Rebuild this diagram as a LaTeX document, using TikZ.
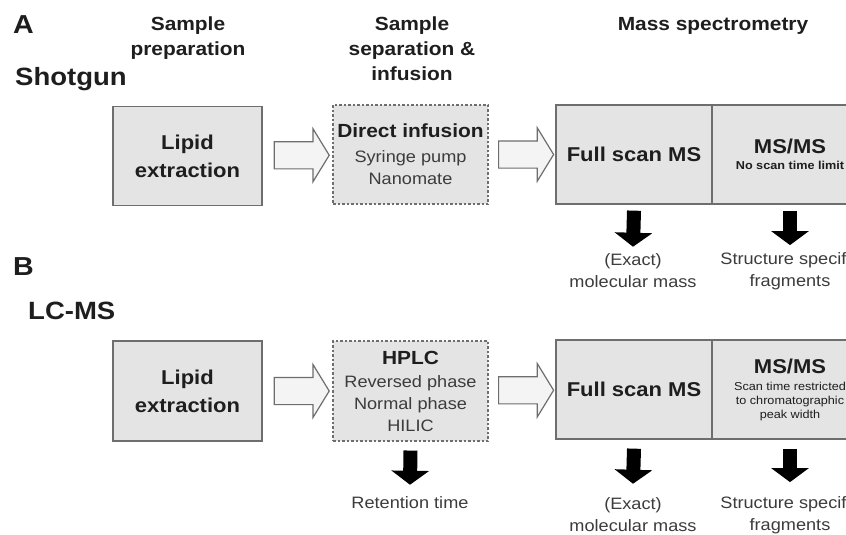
\documentclass[tikz,border=0pt]{standalone}
\usepackage{fontspec}
\setmainfont[FakeStretch=1.1]{Liberation Sans}
\usetikzlibrary{shapes.arrows,arrows.meta,calc}
\definecolor{boxgray}{HTML}{E4E4E4}
\definecolor{linegray}{HTML}{6E6E6E}
\definecolor{textdark}{HTML}{1E1E1E}
\definecolor{textsoft}{HTML}{3C3C3C}
\definecolor{arrowfill}{HTML}{F4F4F4}
\newcommand\panelfont{\bfseries\fontsize{26}{30}\selectfont}
\newcommand\modefont{\bfseries\fontsize{25}{29}\selectfont}
\newcommand\hdfont{\bfseries\fontsize{19}{25}\selectfont}
\newcommand\boxfont{\bfseries\fontsize{20}{28}\selectfont}
\newcommand\subfont{\fontsize{16.5}{22}\selectfont}
\newcommand\smallnote{\fontsize{11.5}{14}\selectfont}
\begin{document}
\begin{tikzpicture}[x=1pt, y=-1pt,
    box/.style={draw=linegray, fill=boxgray, line width=1.3pt, inner sep=0pt,
      align=center, text=textdark, minimum height=99pt},
    dashbox/.style={box, dash pattern=on 2.5pt off 2pt, line width=1.1pt},
    openarr/.style={single arrow, draw=linegray, fill=arrowfill, line width=1.2pt,
      minimum height=55pt, minimum width=52pt, single arrow head extend=13pt,
      single arrow tip angle=117, inner xsep=0pt, inner ysep=13pt},
    downarr/.style={line width=14pt, -{Triangle[width=37pt,length=14pt]}},
    outtext/.style={inner sep=0pt, align=center, text=textsoft, font=\subfont},
    heading/.style={inner sep=0pt, align=center, text=textdark, font=\hdfont}
  ]
    \useasboundingbox (0,0) rectangle (846,535);
    \clip (0,0) rectangle (846,535);
    \fill[white] (0,0) rectangle (846,535);

    \node[anchor=north west, inner sep=0pt, font=\panelfont, text=textdark] (panA) at (13,15) {A};
    \node[anchor=north west, inner sep=0pt, font=\panelfont, text=textdark] (panB) at (13,257) {B};
    \node[anchor=north west, inner sep=0pt, font=\modefont, text=textdark] (shotgun) at (15,67) {Shotgun};
    \node[anchor=north west, inner sep=0pt, font=\modefont, text=textdark] (lcms) at (28,302) {LC-MS};

    \node[heading, anchor=north] (hPrep) at (188,17) {Sample\\preparation};
    \node[heading, anchor=north] (hSep) at (412,17) {Sample\\separation \&\\infusion};
    \node[heading, anchor=north] (hMass) at (713,17) {Mass spectrometry};

    \begin{scope}[every node/.style={box}]
        \node[minimum width=149pt, font=\boxfont] (lipA) at (187.5,156) {Lipid\\extraction};
        \node[dashbox, minimum width=155pt, font=\subfont] (infA) at (410.5,154.5)
            {{\hdfont Direct infusion}\\[3pt]{\color{textsoft}Syringe pump}\\{\color{textsoft}Nanomate}};
        \node[minimum width=156pt, font=\boxfont] (fsA) at (634,154.5) {Full scan MS};
        \node[minimum width=156pt, font=\smallnote] (msA) at (790,154.5)
            {{\boxfont MS/MS}\\[2pt]{\bfseries No scan time limit}};

        \node[minimum width=149pt, minimum height=100pt, font=\boxfont] (lipB) at (187.5,391) {Lipid\\extraction};
        \node[dashbox, minimum width=155pt, minimum height=100pt, font=\subfont] (hplcB) at (410.5,391)
            {{\hdfont HPLC}\\[1pt]{\color{textsoft}Reversed phase}\\{\color{textsoft}Normal phase}\\{\color{textsoft}HILIC}};
        \node[minimum width=156pt, font=\boxfont] (fsB) at (634,389.5) {Full scan MS};
        \node[minimum width=156pt, font=\smallnote] (msB) at (790,389.5)
            {{\boxfont MS/MS}\\[3pt]Scan time restricted\\to chromatographic\\peak width};
    \end{scope}

    \node[outtext] (exA) at (633,271) {(Exact)\\molecular mass};
    \node[outtext] (stA) at (790,271) {Structure specific\\fragments};
    \node[outtext] (rtB) at (410,503) {Retention time};
    \node[outtext] (exB) at (633,515) {(Exact)\\molecular mass};
    \node[outtext] (stB) at (790,515) {Structure specific\\fragments};

    \node[openarr] (arA1) at ($(lipA.east)!0.5!(infA.west)$) {};
    \node[openarr] (arA2) at ($(infA.east)!0.5!(fsA.west)$) {};
    \node[openarr] (arB1) at ($(lipB.east)!0.5!(hplcB.west)$) {};
    \node[openarr] (arB2) at ($(hplcB.east)!0.5!(fsB.west)$) {};

    \draw[downarr] ([yshift=-6pt]fsA.south) -- ([yshift=7pt]exA.north);
    \draw[downarr] ([yshift=-6pt]msA.south) -- ([yshift=7pt]stA.north);
    \draw[downarr] ([yshift=-9pt]hplcB.south) -- ([yshift=12pt]rtB.north);
    \draw[downarr] ([yshift=-9pt]fsB.south) -- ([yshift=14pt]exB.north);
    \draw[downarr] ([yshift=-9pt]msB.south) -- ([yshift=14pt]stB.north);
\end{tikzpicture}
\end{document}
